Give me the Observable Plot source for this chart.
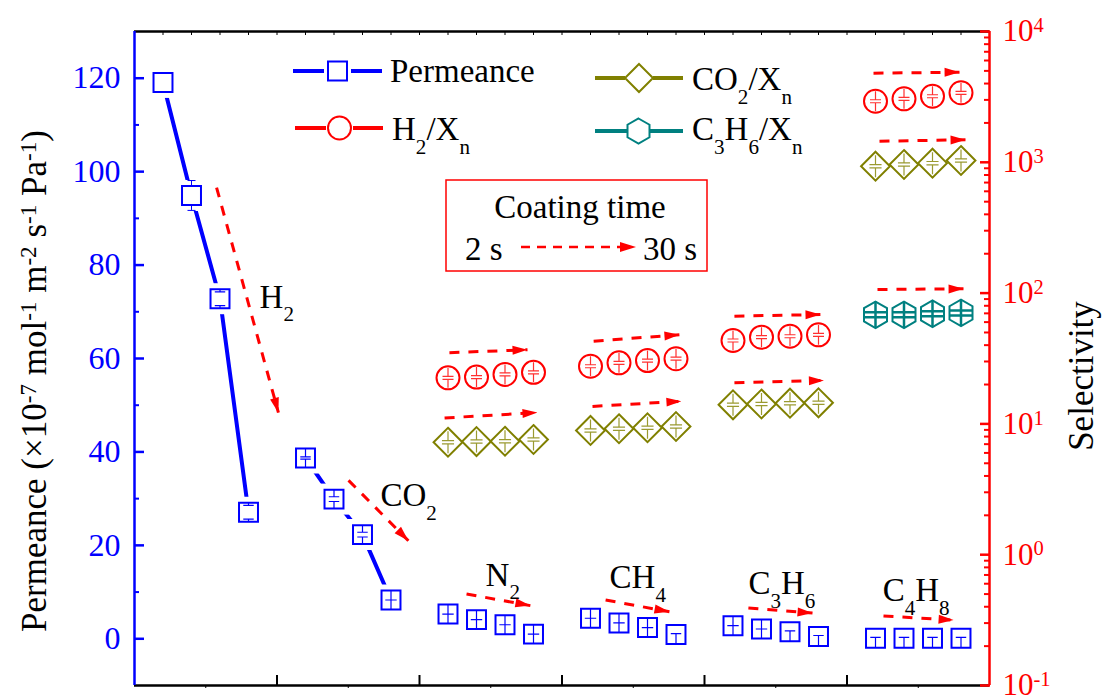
<!DOCTYPE html>
<html><head><meta charset="utf-8">
<script src="https://cdn.jsdelivr.net/npm/d3@7"></script>
<script src="https://cdn.jsdelivr.net/npm/@observablehq/plot@0.6"></script>
<style>
body{margin:0;background:#fff;}
#chart{position:relative;width:1104px;height:699px;}
#chart svg text, #chart svg tspan{font-family:'Liberation Serif','Times New Roman',serif !important;}
</style></head><body><div id="chart"></div>
<script>
// ---------------- data ----------------
const gases = ["H2", "CO2", "N2", "CH4", "C3H6", "C4H8"];
const gasLabels = ["H_{2}", "CO_{2}", "N_{2}", "CH_{4}", "C_{3}H_{6}", "C_{4}H_{8}"];
const coatingSteps = [0, 1, 2, 3]; // 2 s -> 30 s
// permeance (x10^-7 mol m^-2 s^-1 Pa^-1), 4 coating times per gas
const permeance = [119.1, 94.9, 72.8, 27.1, 38.7, 29.9, 22.3, 8.3, 5.3, 4.1, 3.0, 1.0,
                   4.4, 3.4, 2.4, 0.9, 2.8, 2.1, 1.5, 0.5, 0.1, 0.1, 0.1, 0.1];
const permError = [0.5, 3.2, 1.8, 2.0, 0.4, 0.8, 0.8, 1.0, 0.5, 0.5, 0.5, 0.5,
                   0.5, 0.5, 0.5, 0.5, 0.5, 0.5, 0.5, 0.5, 0.5, 0.5, 0.5, 0.5];
const permGlyph = ["", "", "capW", "capW", "capN", "cap", "cap", "plus", "plus", "plus", "plus", "plus",
                   "plus", "plus", "plus", "tee", "plus", "plus", "tee", "tee", "tee", "tee", "tee", "tee"];
const connectedGases = ["H2", "CO2"];
// selectivities (log right axis)
const selGases = ["N2", "CH4", "C3H6", "C4H8"];
const h2Sel = [22.5, 22.8, 23.9, 24.8, 27.6, 29.3, 30.5, 31.5, 43.4, 46.0, 46.8, 48.0, 2930, 3055, 3200, 3400];
const co2Sel = [7.24, 7.33, 7.37, 7.60, 8.91, 9.18, 9.34, 9.55, 14.0, 14.2, 14.4, 14.5, 934, 962, 985, 1032];
const c3h6Sel = [68.2, 68.2, 69.5, 70.6]; // C4H8 group only
// axis ticks
const leftTicks = [0, 20, 40, 60, 80, 100, 120];
const leftMinor = [10, 30, 50, 70, 90, 110];
const rightExponents = [-1, 0, 1, 2, 3, 4];
// annotations (data units)
const labelX = [4.39, 8.63, 12.32, 16.67, 21.54, 26.25];
const labelY = [70.9, 28.5, 11.4, 10.9, 9.6, 8.1];
const permArrowX1 = [2.88, 7.51, 11.65, 16.53, 21.54, 26.28];
const permArrowY1 = [96.6, 33.9, 9.6, 8.3, 6.6, 4.9];
const permArrowX2 = [5.05, 9.61, 13.89, 18.77, 23.79, 28.74];
const permArrowY2 = [48.4, 21.0, 7.1, 5.8, 5.5, 4.0];
const selArrowX1 = [11.05, 10.88, 16.11, 16.07, 21.05, 21.05, 25.93, 26.14, 26.07];
const selArrowS1 = [35.0, 11.1, 42.9, 13.6, 66.6, 20.6, 4800, 1449, 106.6];
const selArrowX2 = [13.79, 14.14, 19.12, 19.19, 24.07, 24.19, 28.95, 29.16, 29.09];
const selArrowS2 = [36.9, 12.2, 48.0, 14.9, 68.6, 21.5, 4885, 1486, 107.9];

// ---------------- helpers ----------------
const FONT = "'Liberation Serif', 'Times New Roman', serif";
const BLUE = "#0000ff", RED = "#ff0000", OLIVE = "#808000", TEAL = "#008080";
const xPos = (g, i) => g * 5 + 1 + i;                 // category slot position
const sel2y = s => -10 + (Math.log10(s) + 1) * 28;      // right log axis onto left scale
const y2exp = v => Math.round((v + 10) / 28 - 1);

const permRows = permeance.map((v, k) => {
  const g = Math.floor(k / 4), i = k % 4;
  return {gas: gases[g], x: xPos(g, i), v, err: permError[k], glyph: permGlyph[k]};
});
const selRows = [];
selGases.forEach((gas, j) => coatingSteps.forEach(i => {
  const g = gases.indexOf(gas);
  selRows.push({series: "H2", gas, x: xPos(g, i), s: h2Sel[j * 4 + i]});
  selRows.push({series: "CO2", gas, x: xPos(g, i), s: co2Sel[j * 4 + i]});
}));
coatingSteps.forEach(i => selRows.push({series: "C3H6", gas: "C4H8", x: xPos(5, i), s: c3h6Sel[i]}));
const permArrows = permArrowX1.map((x1, k) => ({x1, y1: permArrowY1[k], x2: permArrowX2[k], y2: permArrowY2[k]}));
const selArrows = selArrowX1.map((x1, k) => ({x1, y1: sel2y(selArrowS1[k]), x2: selArrowX2[k], y2: sel2y(selArrowS2[k])}));
const labels = gasLabels.map((t, k) => ({t, x: labelX[k], y: labelY[k]}));

const glyph = fn => ({draw(c, size) { fn(c, Math.sqrt(size / Math.PI)); }});
const capSym = g => glyph((c, r) => {
  const w = r * 0.55, q = r * g;
  c.moveTo(0, -r); c.lineTo(0, -q); c.moveTo(-w, -q); c.lineTo(w, -q);
  c.moveTo(-w, q); c.lineTo(w, q); c.moveTo(0, q); c.lineTo(0, r);
});
const plusSym = glyph((c, r) => { c.moveTo(0, -r); c.lineTo(0, r); c.moveTo(-r * 0.6, 0); c.lineTo(r * 0.6, 0); });
const teeSym = glyph((c, r) => { c.moveTo(-r * 0.55, -r * 0.1); c.lineTo(r * 0.55, -r * 0.1); c.moveTo(0, -r * 0.1); c.lineTo(0, r); });
const hexCross = glyph((c, r) => { c.moveTo(-r, -2.5); c.lineTo(r, -2.5); c.moveTo(-r, 2.5); c.lineTo(r, 2.5); c.moveTo(0, -r * 1.15); c.lineTo(0, r * 1.15); });
const hcap = glyph((c, r) => { c.moveTo(-r, 0); c.lineTo(r, 0); });
const permGlyphSyms = {capW: capSym(0.72), capN: capSym(0.12), cap: capSym(0.25), plus: plusSym, tee: teeSym};

const lineRows = permRows.filter(d => connectedGases.includes(d.gas));
const rightMajor = rightExponents.map(e => sel2y(10 ** e));
const rightMinor = [];
rightExponents.slice(0, -1).forEach(e => { for (let m = 2; m <= 9; m++) rightMinor.push(sel2y(m * 10 ** e)); });
const none = () => "";

const marks = [
  Plot.ruleY([-10, 130], {stroke: "black", strokeWidth: 2.5}),
  Plot.axisX({anchor: "bottom", ticks: [5, 10, 15, 20, 25], tickSize: -10, strokeWidth: 2, tickFormat: none, label: null}),
  Plot.axisX({anchor: "bottom", ticks: [2.5, 7.5, 12.5, 17.5, 22.5, 27.5], tickSize: 3, strokeWidth: 1, tickFormat: none, label: null}),
  Plot.axisX({anchor: "top", ticks: d3.range(1, 30), tickSize: -3, strokeWidth: 1, tickFormat: none, label: null}),
  Plot.ruleX([0], {stroke: BLUE, strokeWidth: 2.5}),
  Plot.ruleX([30], {stroke: RED, strokeWidth: 2.5}),
  Plot.axisY({anchor: "left", ticks: leftTicks, tickSize: -10, strokeWidth: 2.5, color: BLUE, tickFormat: none, label: null}),
  Plot.axisY({anchor: "left", ticks: leftMinor, tickSize: -5, strokeWidth: 2, color: BLUE, tickFormat: none, label: null}),
  Plot.axisY({anchor: "left", ticks: leftTicks, tickSize: 0, tickPadding: 14, color: BLUE, fontSize: 32, fontFamily: FONT, label: null}),
  Plot.axisY({anchor: "right", ticks: rightMajor, tickSize: -10, strokeWidth: 2.5, color: RED, tickFormat: none, label: null}),
  Plot.axisY({anchor: "right", ticks: rightMinor, tickSize: -6, strokeWidth: 2, color: RED, tickFormat: none, label: null}),
  Plot.axisY({anchor: "right", ticks: rightMajor, tickSize: 0, tickPadding: 13, color: RED, fontSize: 31, fontFamily: FONT, label: null,
              tickFormat: v => `10^{${y2exp(v)}}`}),
  // permeance
  Plot.line(lineRows, {x: "x", y: "v", z: "gas", stroke: BLUE, strokeWidth: 4}),
  Plot.dot(lineRows, {x: "x", y: "v", symbol: "square", r: 17.5, fill: "white", stroke: "none"}),
  Plot.ruleX(permRows, {x: "x", y1: d => d.v - d.err, y2: d => d.v + d.err, stroke: BLUE, strokeWidth: 1}),
  Plot.dot(permRows, {x: "x", y: d => d.v + d.err, symbol: hcap, r: 4, fill: "none", stroke: BLUE, strokeWidth: 1}),
  Plot.dot(permRows, {x: "x", y: d => d.v - d.err, symbol: hcap, r: 4, fill: "none", stroke: BLUE, strokeWidth: 1}),
  Plot.dot(permRows, {x: "x", y: "v", symbol: "square", r: 10.7, fill: "white", stroke: BLUE, strokeWidth: 2}),
  ...Object.entries(permGlyphSyms).map(([k, sym]) =>
    Plot.dot(permRows.filter(d => d.glyph === k), {x: "x", y: "v", symbol: sym, r: 9.5, fill: "none", stroke: BLUE, strokeWidth: 1.2})),
  // selectivity
  Plot.dot(selRows.filter(d => d.series === "CO2"), {x: "x", y: d => sel2y(d.s), symbol: "diamond2", r: 13, fill: "white", stroke: OLIVE, strokeWidth: 2}),
  Plot.dot(selRows.filter(d => d.series === "CO2"), {x: "x", y: d => sel2y(d.s), symbol: capSym(0.15), r: 11, fill: "none", stroke: "#9a9a30", strokeWidth: 1.2}),
  Plot.dot(selRows.filter(d => d.series === "H2"), {x: "x", y: d => sel2y(d.s), symbol: "circle", r: 11.5, fill: "white", stroke: RED, strokeWidth: 2}),
  Plot.dot(selRows.filter(d => d.series === "H2"), {x: "x", y: d => sel2y(d.s), symbol: capSym(0.15), r: 10, fill: "none", stroke: "#ff3030", strokeWidth: 1.2}),
  Plot.dot(selRows.filter(d => d.series === "C3H6"), {x: "x", y: d => sel2y(d.s), symbol: "hexagon", r: 11.5, fill: "white", stroke: TEAL, strokeWidth: 2}),
  Plot.dot(selRows.filter(d => d.series === "C3H6"), {x: "x", y: d => sel2y(d.s), symbol: hexCross, r: 11.5, fill: "none", stroke: TEAL, strokeWidth: 2.5}),
  // coating-time arrows
  Plot.link(permArrows, {x1: "x1", y1: "y1", x2: "x2", y2: "y2", stroke: RED, strokeWidth: 3, strokeDasharray: "10,9", markerEnd: "arrow"}),
  Plot.link(selArrows, {x1: "x1", y1: "y1", x2: "x2", y2: "y2", stroke: RED, strokeWidth: 3, strokeDasharray: "10,9", markerEnd: "arrow"}),
  // gas labels
  Plot.text(labels, {x: "x", y: "y", text: "t", textAnchor: "start", lineAnchor: "bottom", fontSize: 33, fontFamily: FONT, fill: "black"})
];

const svg = Plot.plot({
  width: 1104, height: 699,
  marginLeft: 134, marginRight: 115, marginTop: 31, marginBottom: 14,
  style: {fontFamily: FONT, fontSize: "32px", background: "white", overflow: "visible"},
  x: {type: "linear", domain: [0, 30]},
  y: {type: "linear", domain: [-10, 130]},
  marks
});
svg.style.fontFamily = FONT;
document.getElementById("chart").appendChild(svg);

// filled arrow heads
svg.querySelectorAll("marker").forEach(m => {
  const color = m.getAttribute("stroke") || RED;
  m.setAttribute("viewBox", "-16 -8 16 16");
  m.setAttribute("markerUnits", "userSpaceOnUse");
  m.setAttribute("markerWidth", 16);
  m.setAttribute("markerHeight", 16);
  m.setAttribute("stroke", "none");
  m.setAttribute("fill", color);
  m.innerHTML = "";
  const p = document.createElementNS("http://www.w3.org/2000/svg", "path");
  p.setAttribute("d", "M-15,-4.5L0,0L-15,4.5Z");
  p.setAttribute("fill", color);
  p.setAttribute("stroke", "none");
  m.appendChild(p);
});

// overlay: legend, box, axis titles
const S = d3.select(svg);
const G = S.append("g").attr("font-family", FONT).attr("font-size", 33).attr("fill", "black").attr("text-anchor", "start");
const hexPath = (cx, cy, rx, ry) =>
  `M${cx},${cy - ry}L${cx + rx},${cy - ry / 2}L${cx + rx},${cy + ry / 2}L${cx},${cy + ry}L${cx - rx},${cy + ry / 2}L${cx - rx},${cy - ry / 2}Z`;
const circlePath = (cx, cy, r) => `M${cx - r},${cy}a${r},${r} 0 1,0 ${2 * r},0a${r},${r} 0 1,0 ${-2 * r},0Z`;
function legendItem(color, y, xa, xb, xc, xd, shape, text, tx, ty) {
  G.append("line").attr("x1", xa).attr("x2", xb).attr("y1", y).attr("y2", y).attr("stroke", color).attr("stroke-width", 4);
  G.append("line").attr("x1", xc).attr("x2", xd).attr("y1", y).attr("y2", y).attr("stroke", color).attr("stroke-width", 4);
  G.append("path").attr("d", shape).attr("fill", "white").attr("stroke", color).attr("stroke-width", 2);
  G.append("text").attr("x", tx).attr("y", ty).text(text);
}
legendItem(BLUE, 71, 293, 324, 351, 382, "M328,61.5h19v19h-19Z", "Permeance", 390, 82);
legendItem(RED, 128, 295, 326, 353, 383, circlePath(339.5, 128, 11.5), "H_{2}/X_{n}", 392, 140);
legendItem(OLIVE, 78, 595, 625, 653, 683, "M639,64L653,78L639,92L625,78Z", "CO_{2}/X_{n}", 692, 90);
legendItem(TEAL, 131, 595, 627, 650, 683, hexPath(638.5, 131, 11, 12.5), "C_{3}H_{6}/X_{n}", 692, 140);

// coating-time box
G.append("rect").attr("x", 446).attr("y", 180).attr("width", 261).attr("height", 91).attr("fill", "none").attr("stroke", RED).attr("stroke-width", 1.5);
G.append("text").attr("x", 580).attr("y", 218).attr("text-anchor", "middle").text("Coating time");
G.append("text").attr("x", 465).attr("y", 260).text("2 s");
G.append("line").attr("x1", 521).attr("x2", 622).attr("y1", 247).attr("y2", 247).attr("stroke", RED).attr("stroke-width", 2.5).attr("stroke-dasharray", "9,7");
G.append("path").attr("d", "M620,242L636,247L620,252Z").attr("fill", RED);
G.append("text").attr("x", 643).attr("y", 260).text("30 s");

// axis titles
G.append("text").attr("transform", "translate(46,381) rotate(-90)").attr("text-anchor", "middle").attr("font-size", 35)
  .text("Permeance (×10^{-7} mol^{-1} m^{-2} s^{-1} Pa^{-1})");
G.append("text").attr("transform", "translate(1093,376) rotate(-90)").attr("text-anchor", "middle").attr("font-size", 35)
  .text("Selectivity");

// rich text: _{sub} and ^{sup}
svg.querySelectorAll("text").forEach(t => {
  const s = t.textContent;
  if (!/[_^]\{/.test(s) || t.querySelector("tspan")) return;
  const fs = parseFloat(getComputedStyle(t).fontSize) || 32;
  t.textContent = "";
  const re = /([_^])\{([^}]*)\}|([^_^]+)/g;
  let m, cur = 0;
  while ((m = re.exec(s))) {
    const ts = document.createElementNS("http://www.w3.org/2000/svg", "tspan");
    let target = 0;
    if (m[1]) {
      ts.textContent = m[2];
      ts.setAttribute("font-size", (fs * (m[1] === "_" ? 0.64 : 0.66)).toFixed(1));
      target = m[1] === "_" ? fs * 0.42 : -fs * 0.30;
    } else ts.textContent = m[3];
    const dy = target - cur;
    if (Math.abs(dy) > 0.01) ts.setAttribute("dy", dy.toFixed(1));
    cur = target;
    t.appendChild(ts);
  }
});
</script>
</body></html>
